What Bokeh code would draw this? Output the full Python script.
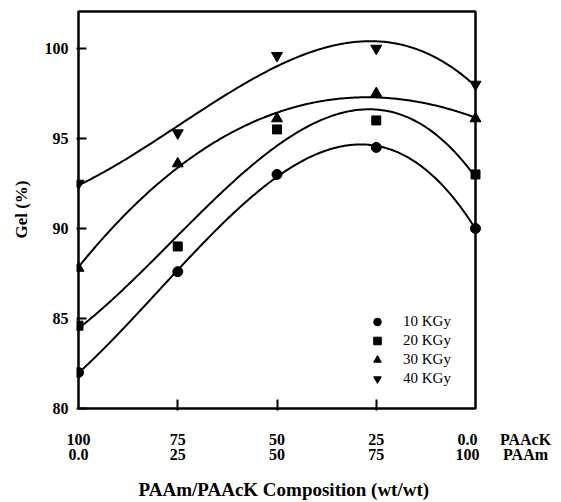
import numpy as np
from bokeh.plotting import figure
from bokeh.models import (Range1d, Legend, LegendItem, FixedTicker,
                          LinearAxis, Title)
from bokeh.embed import file_html
from bokeh.resources import INLINE

# ---- data ----
composition_paack = [100, 75, 50, 25, 0]
paack_labels = ["100", "75", "50", "25", "0.0"]
paam_labels = ["0.0", "25", "50", "75", "100"]
dose_labels = ["10 KGy", "20 KGy", "30 KGy", "40 KGy"]
gel_10 = [82.0, 87.6, 93.0, 94.5, 90.0]
gel_20 = [84.6, 89.0, 95.5, 96.0, 93.0]
gel_30 = [87.8, 93.6, 96.1, 97.5, 96.1]
gel_40 = [92.5, 95.3, 99.6, 100.0, 98.0]
y_ticks = [80, 85, 90, 95, 100]

# ---- layout (pixels) ----
W, H = 561, 502
FONT = "Liberation Serif"
XMAX, XMIN = max(composition_paack), min(composition_paack)
YMIN, YMAX = 80, 102.05
BOX_L, BOX_R, BOX_T, BOX_B = 78, 475, 11, 408      # visible plot box
FR_L, FR_R, FR_T, FR_B = 76, 561, 8, 410           # bokeh frame
ppx = (BOX_R - BOX_L) / (XMAX - XMIN)
ppy = (BOX_B - BOX_T) / (YMAX - YMIN)
x_start = XMAX + (BOX_L - FR_L) / ppx
x_end = XMIN - (FR_R - BOX_R) / ppx
y_start = YMIN - (FR_B - BOX_B) / ppy
y_end = YMAX + (BOX_T - FR_T) / ppy

p = figure(width=W, height=H, x_range=Range1d(x_start, x_end),
           y_range=Range1d(y_start, y_end),
           output_backend="svg", toolbar_location=None,
           min_border_left=FR_L, min_border_right=W - FR_R,
           min_border_top=FR_T, min_border_bottom=H - FR_B)
p.grid.visible = False
p.outline_line_color = None
p.background_fill_color = "white"

# plot box
p.quad(left=[XMAX], right=[XMIN], bottom=[YMIN], top=[YMAX],
       fill_color=None, line_color="black", line_width=2.5)

# y axis
ya = p.yaxis[0]
ya.ticker = FixedTicker(ticks=y_ticks)
ya.major_tick_in = 10
ya.major_tick_out = 0
ya.minor_tick_line_color = None
ya.axis_line_color = None
ya.major_tick_line_width = 2
ya.major_label_standoff = 8
ya.major_label_text_font = FONT
ya.major_label_text_font_style = "bold"
ya.major_label_text_font_size = "16px"
ya.major_label_text_color = "black"
ya.axis_label = "Gel (%)"
ya.axis_label_text_font = FONT
ya.axis_label_text_font_style = "bold"
ya.axis_label_text_font_size = "17px"
ya.axis_label_text_color = "black"
ya.axis_label_standoff = 11

def quiet_axis(ax, ticks, standoff, filler=""):
    ax.ticker = FixedTicker(ticks=ticks)
    ax.major_label_overrides = {v: filler for v in ticks}
    ax.major_label_text_font_size = "1px"
    ax.major_label_standoff = standoff
    ax.axis_line_color = None
    ax.minor_tick_line_color = None

# x axis: tick marks only
xa = p.xaxis[0]
quiet_axis(xa, composition_paack[1:-1], 0)
xa.major_tick_in = 11
xa.major_tick_out = 0
xa.major_tick_line_width = 2

# two rows of composition labels, with the row names at the right
right_col = XMIN + 8 / ppx          # last column sits slightly left of the box edge
name_pos = XMIN - 50 / ppx
ticks_b = composition_paack[:-1] + [right_col, name_pos]
texts_b = [f"{a}\n{b}" for a, b in zip(paack_labels + ["PAAcK"], paam_labels + ["PAAm"])]
xb = LinearAxis(ticker=FixedTicker(ticks=ticks_b),
                major_label_overrides={v: t for v, t in zip(ticks_b, texts_b)})
xb.axis_line_color = None
xb.major_tick_line_color = None
xb.minor_tick_line_color = None
xb.major_tick_in = 0
xb.major_tick_out = 0
xb.major_label_standoff = 20
xb.major_label_text_font = FONT
xb.major_label_text_font_style = "bold"
xb.major_label_text_font_size = "16px"
xb.major_label_text_line_height = 0.9
xb.major_label_text_color = "black"
p.add_layout(xb, "below")

# spacer before the axis title (an invisible 1px no-break space)
xc = LinearAxis()
quiet_axis(xc, [50], 7, filler="\u00a0")
xc.major_tick_line_color = None
xc.major_tick_in = 0
xc.major_tick_out = 0
p.add_layout(xc, "below")

# x axis title
xt = Title(text="PAAm/PAAcK Composition (wt/wt)", align="left", offset=62,
           vertical_align="bottom", standoff=0,
           text_font=FONT, text_font_style="bold", text_font_size="19px",
           text_color="black")
p.add_layout(xt, "below")

# curves (cubic least-squares fits) and markers
series = [gel_10, gel_20, gel_30, gel_40]
markers = ["circle", "square", "triangle", "inverted_triangle"]
sizes = [10, 9, 11, 11]
xs = np.linspace(XMIN, XMAX, 201)
items = []
for vals, mk, sz, lab in zip(series, markers, sizes, dose_labels):
    coef = np.polyfit(composition_paack, vals, 3)
    p.line(xs, np.polyval(coef, xs), line_color="black", line_width=2)
    r = p.scatter(composition_paack, vals, marker=mk, size=sz,
                  fill_color="black", line_color="black")
    items.append(LegendItem(label=lab, renderers=[r]))

legend = Legend(items=items, location=(291, 22))
legend.border_line_color = None
legend.background_fill_alpha = 0
legend.label_text_font = FONT
legend.label_text_font_size = "15px"
legend.label_text_color = "black"
legend.glyph_width = 20
legend.glyph_height = 19
legend.label_height = 19
legend.spacing = 0
legend.padding = 0
legend.margin = 0
legend.label_standoff = 16
p.add_layout(legend)

open("out.html", "w").write(file_html(p, INLINE))
